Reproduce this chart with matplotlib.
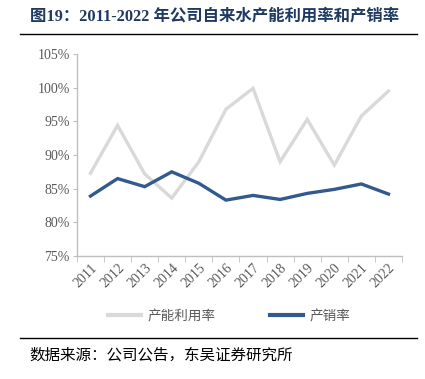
import matplotlib.pyplot as plt
from matplotlib.lines import Line2D

plt.rcParams['font.family'] = ['Liberation Serif', 'Noto Sans CJK SC', 'DejaVu Sans']

years = ["2011", "2012", "2013", "2014", "2015", "2016",
         "2017", "2018", "2019", "2020", "2021", "2022"]
capacity_util = [87.3, 94.4, 87.2, 83.6, 89.0, 96.8, 99.9, 89.0, 95.3, 88.5, 95.8, 99.5]
sales_rate = [83.9, 86.5, 85.3, 87.5, 85.8, 83.3, 84.0, 83.4, 84.3, 84.9, 85.7, 84.2]
y_ticks = [75, 80, 85, 90, 95, 100, 105]

GRAY = "#D9D9D9"
BLUE = "#335A8E"
TXT = "#595959"
CJK = ['Noto Sans CJK SC', 'DejaVu Sans']

fig = plt.figure(figsize=(4.25, 3.79), dpi=100)
ax = fig.add_axes([0.181, 0.3245, 0.765, 0.533])

x = list(range(len(years)))
ax.plot(x, capacity_util, color=GRAY, linewidth=2.4, solid_joinstyle="miter", label="产能利用率")
ax.plot(x, sales_rate, color=BLUE, linewidth=2.4, solid_joinstyle="miter", label="产销率")

ax.set_xlim(-0.5, len(years) - 0.5)
ax.set_ylim(75, 105)
ax.set_yticks(y_ticks)
ax.set_yticklabels([f"{v}%" for v in y_ticks], color=TXT, fontsize=10)
ax.set_xticks(x)
ax.set_xticklabels(years, rotation=45, color=TXT, fontsize=10,
                   ha="right", va="top", rotation_mode="anchor")
ax.set_xticks([i - 0.5 for i in range(len(years) + 1)], minor=True)
ax.tick_params(axis="x", which="major", length=0, pad=4)
ax.tick_params(axis="x", which="minor", length=4, color="#BFBFBF", direction="out")
ax.tick_params(axis="y", length=3, color="#BFBFBF", direction="out", pad=2)

for s in ["top", "right"]:
    ax.spines[s].set_visible(False)
for s in ["left", "bottom"]:
    ax.spines[s].set_color("#BFBFBF")
    ax.spines[s].set_linewidth(1.0)

# legend
handles = [Line2D([], [], color=GRAY, linewidth=3), Line2D([], [], color=BLUE, linewidth=3)]
fig.legend(handles, ["产能利用率", "产销率"], loc="center", bbox_to_anchor=(0.54, 0.166),
           ncol=2, frameon=False, handlelength=2.4, handletextpad=0.5, columnspacing=4.0,
           prop={'family': CJK, 'size': 9.8}, labelcolor=TXT)

# title and rules
fig.text(0.07, 0.957, "图19：2011-2022 年公司自来水产能利用率和产销率",
         fontsize=11.8, fontweight="bold", color="#1F3A60", va="center",
         family=['Liberation Serif', 'Noto Sans CJK SC'])
fig.add_artist(Line2D([0.047, 0.982], [0.91, 0.91], color="black", linewidth=1.0))
fig.add_artist(Line2D([0.047, 0.982], [0.108, 0.108], color="black", linewidth=1.0))
fig.text(0.07, 0.063, "数据来源：公司公告，东吴证券研究所", fontsize=11.2,
         color="black", va="center", family=CJK)

fig.savefig("out.png", dpi=100)
